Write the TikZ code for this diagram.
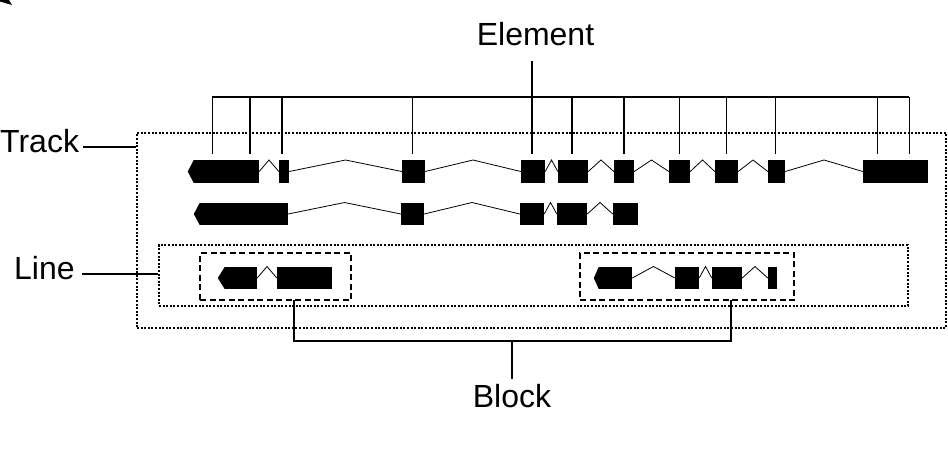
\documentclass[tikz,border=0pt]{standalone}
\usepackage{fontspec}
\setmainfont{Liberation Sans}
\usetikzlibrary{calc}

\tikzset{
  exon/.style={fill=black, inner sep=0pt, minimum height=23pt},
  exonb/.style={exon, minimum height=22pt},
  intron/.style={line width=0.8pt},
  conn/.style={line width=1.2pt},
  lbl/.style={font=\fontsize{32pt}{32pt}\selectfont, inner sep=0pt, anchor=base},
  dotbox/.style={draw, line width=1.6pt, dash pattern=on 2pt off 1.6pt, inner sep=0pt},
  dashbox/.style={draw, line width=1.5pt, dash pattern=on 6pt off 3.5pt, inner sep=0pt}
}

\begin{document}
\begin{tikzpicture}[x=1pt, y=-1pt]
  \useasboundingbox (0,0) rectangle (948,475);
  \fill (0,0) -- (9,0) -- (12,5) -- (0,1.5) -- cycle;

  % labels
  \node[lbl] (ellbl) at (535.5,45) {Element};
  \node[lbl, anchor=base west] (tracklbl) at (0,152) {Track};
  \node[lbl, anchor=base west] (linelbl) at (14,279) {Line};
  \node[lbl] (blocklbl) at (512,407) {Block};

  % boxes
  \node[dotbox, minimum width=809pt, minimum height=195pt] (track) at (541.5,230.5) {};
  \node[dotbox, minimum width=749pt, minimum height=61pt] (line) at (533.5,275.5) {};
  \node[dashbox, minimum width=151pt, minimum height=47pt] (blk1) at (275.5,276.5) {};
  \node[dashbox, minimum width=214pt, minimum height=47pt] (blk2) at (687,276.5) {};

  % track, first row
  \node[exon, minimum width=65pt] (e1) at (226.5,171.5) {};
  \node[exon, minimum width=10pt] (e2) at (284,171.5) {};
  \node[exon, minimum width=23pt] (e3) at (413.5,171.5) {};
  \node[exon, minimum width=24pt] (e4) at (533,171.5) {};
  \node[exon, minimum width=30pt] (e5) at (573,171.5) {};
  \node[exon, minimum width=20pt] (e6) at (624,171.5) {};
  \node[exon, minimum width=21pt] (e7) at (679.5,171.5) {};
  \node[exon, minimum width=23pt] (e8) at (726.5,171.5) {};
  \node[exon, minimum width=17pt] (e9) at (776.5,171.5) {};
  \node[exon, minimum width=65pt] (e10) at (895.5,171.5) {};

  % track, second row
  \node[exonb, minimum width=88pt] (f1) at (244,214) {};
  \node[exonb, minimum width=23pt] (f2) at (412.5,214) {};
  \node[exonb, minimum width=24pt] (f3) at (532,214) {};
  \node[exonb, minimum width=30pt] (f4) at (572,214) {};
  \node[exonb, minimum width=25pt] (f5) at (625.5,214) {};

  % blocks
  \node[exonb, minimum width=32pt] (g1) at (241,278) {};
  \node[exonb, minimum width=55pt] (g2) at (304.5,278) {};
  \node[exonb, minimum width=33pt] (h1) at (615.5,278) {};
  \node[exonb, minimum width=24pt] (h2) at (687,278) {};
  \node[exonb, minimum width=30pt] (h3) at (727,278) {};
  \node[exonb, minimum width=9pt] (h4) at (772.5,278) {};

  % arrow tips
  \fill (e1.north west) -- ([xshift=-6pt]e1.west) -- (e1.south west) -- cycle;
  \fill (f1.north west) -- ([xshift=-6pt]f1.west) -- (f1.south west) -- cycle;
  \fill (g1.north west) -- ([xshift=-7pt]g1.west) -- (g1.south west) -- cycle;
  \fill (h1.north west) -- ([xshift=-5pt]h1.west) -- (h1.south west) -- cycle;

  % introns
  \foreach \a/\b in {e1/e2,e2/e3,e3/e4,e4/e5,e5/e6,e6/e7,e7/e8,e8/e9,e9/e10,
                     f1/f2,f2/f3,f3/f4,f4/f5,g1/g2,h1/h2,h2/h3,h3/h4}
    \draw[intron] (\a.east) -- ($(\a.east)!.5!(\b.west)+(0,-11.5)$) -- (\b.west);

  % element ticks
  \coordinate (barL) at (212,97);
  \coordinate (barR) at (909,97);
  \coordinate (elroot) at (532,97);
  \draw[conn] (barL) -- (barR);
  \draw[conn, shorten >=15pt] (elroot) -- (elroot |- ellbl.south);
  \foreach \n/\f in {e1/.28,e1/.86,e2/.3,e3/.45,e4/.46,e5/.47,e6/.5,e7/.5,
                     e8/.5,e9/.45,e10/.23,e10/.71} {
    \coordinate (t) at ($(\n.north west)!\f!(\n.north east)+(0,-6)$);
    \draw[conn] (t) -- (t |- barL);
  }

  % track and line labels
  \coordinate (trk) at ([yshift=5pt, xshift=4pt]tracklbl.base east);
  \coordinate (lne) at ([yshift=5pt, xshift=7pt]linelbl.base east);
  \draw[conn] (trk) -- (trk -| track.west);
  \draw[conn] (lne) -- (lne -| line.west);

  % block label
  \coordinate (b1) at (294,300);
  \coordinate (b2) at (731,300);
  \coordinate (join) at (512,341);
  \draw[conn] (b1) |- (join) -| (b2);
  \draw[conn, shorten >=5pt] (join) -- (blocklbl.north);
\end{tikzpicture}
\end{document}
